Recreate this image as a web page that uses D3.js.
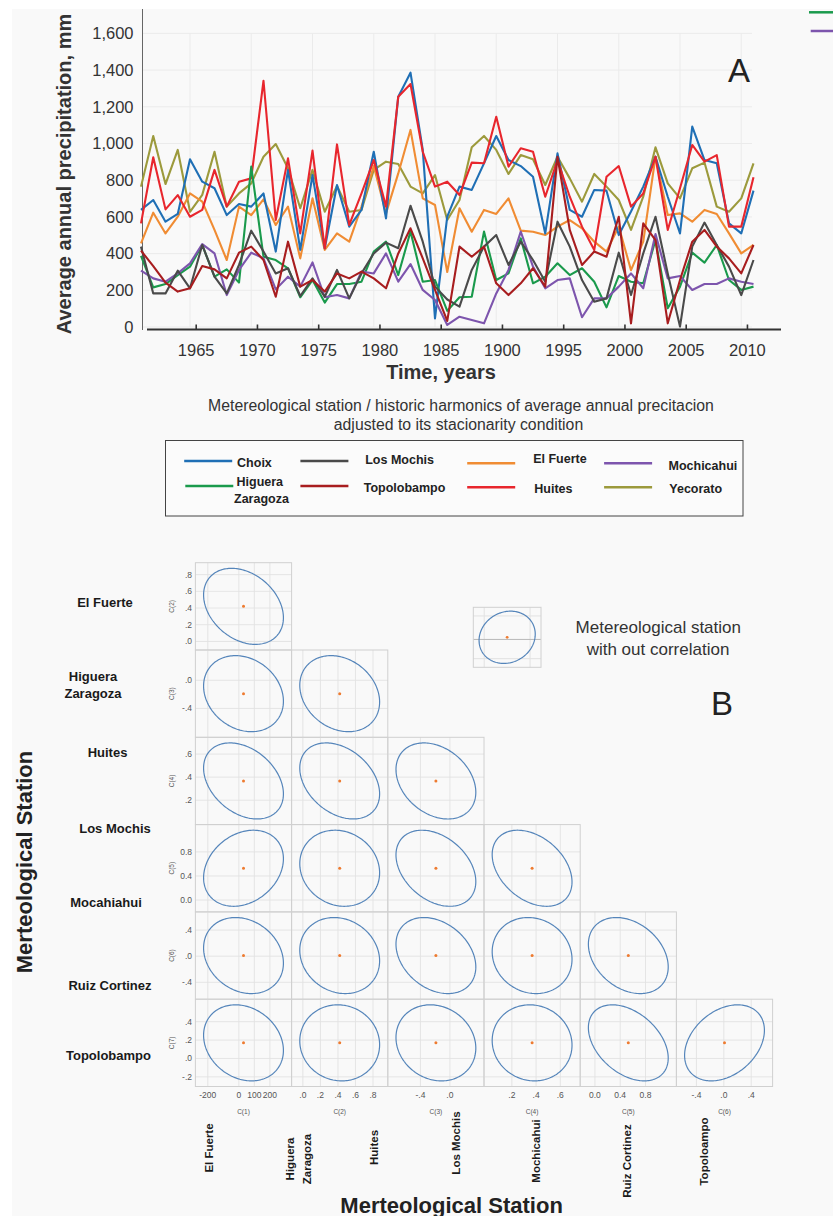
<!DOCTYPE html>
<html><head><meta charset="utf-8">
<script src="https://cdn.jsdelivr.net/npm/d3@7"></script>
<style>body{margin:0;background:#fff}text{font-family:"Liberation Sans",Arial,sans-serif}</style>
</head><body><svg id="c" width="833" height="1216"></svg>
<script>
// ---------------- DATA (panel A) ----------------
const years = [1961,1962,1963,1964,1965,1966,1967,1968,1969,1970,1971,1972,1973,1974,1975,1976,1977,1978,1979,1980,1981,1982,1983,1984,1985,1986,1987,1988,1989,1990,1991,1992,1993,1994,1995,1996,1997,1998,1999,2000,2001,2002,2003,2004,2005,2006,2007,2008,2009,2010,2011];
const choix = [638,692,574,616,914,792,756,610,670,656,728,411,856,420,828,429,774,547,638,955,592,1255,1386,965,47,601,765,747,892,1041,910,877,819,510,946,638,601,747,743,501,629,765,928,710,510,1092,910,892,565,510,743];
const huites = [565,925,641,719,601,638,856,656,792,810,1342,583,919,510,961,429,995,556,728,910,656,1255,1324,955,765,792,719,896,892,1146,874,974,955,710,910,710,547,420,819,877,656,728,928,529,756,992,901,937,547,547,816];
const yecorato = [765,1041,779,965,628,720,955,656,728,783,928,997,865,647,856,628,768,628,638,856,901,888,765,728,828,583,692,979,1041,965,834,937,914,774,928,810,683,834,765,692,529,710,979,783,701,865,896,656,628,701,892];
const elFuerte = [456,623,510,601,728,683,529,365,656,610,696,556,656,374,701,420,510,465,656,877,619,837,1074,701,665,300,647,519,638,616,701,525,519,501,547,583,538,465,411,547,310,465,928,610,619,574,638,616,510,401,447];
const losMochis = [438,183,183,307,211,447,274,183,338,525,411,292,320,169,265,165,311,156,292,401,460,429,661,465,220,150,111,311,438,501,338,465,365,247,574,438,256,138,156,405,174,401,601,292,2,438,569,447,329,174,365];
const topolobampo = [416,332,242,193,211,332,314,265,405,438,365,165,465,220,256,193,292,265,302,265,211,401,538,374,202,33,438,383,438,238,174,238,320,220,928,529,338,411,383,601,20,565,474,20,256,465,529,438,374,292,447];
const higuera = [387,216,234,283,329,447,274,314,242,874,383,365,320,162,256,133,234,234,247,411,465,283,520,247,256,88,162,165,520,256,292,483,238,274,347,283,320,247,107,278,247,238,474,102,220,405,351,447,256,202,220];
const mochicahui = [307,265,247,292,347,452,401,174,311,405,374,205,274,220,352,162,174,156,302,292,401,247,343,202,147,11,56,38,20,183,311,520,329,211,256,265,53,156,156,220,292,211,507,265,278,202,234,234,265,247,234];
const yTicks = [0,200,400,600,800,1000,1200,1400,1600];
const xTickYears = [1965,1970,1975,1980,1985,1990,1995,2000,2005,2010];
const xTickLabels = ["1965","1970","1975","1980","1985","1900","1995","2000","2005","2010"];

// ---------------- DATA (panel B) ----------------
const varNames = ["C(1)","C(2)","C(3)","C(4)","C(5)","C(6)","C(7)"];
const varMeans = [30, 0.42, -0.19, 0.367, 0.528, 0.01, 0.17];
const varSDs = [105, 0.186, 0.221, 0.1347, 0.258, 0.238, 0.169];
const varTicks = [[-200,0,100,200],[0,0.2,0.4,0.6,0.8],[-0.4,0],[0.2,0.4,0.6],[0,0.4,0.8],[-0.4,0,0.4],[-0.2,0,0.2,0.4]];
const varTickLabels = [["-200","0","100","200"],[".0",".2",".4",".6",".8"],["-.4",".0"],[".2",".4",".6"],["0.0","0.4","0.8"],["-.4",".0",".4"],["-.2",".0",".2",".4"]];
// correlation of row variable (C(r+2)) with column variable (C(c+1))
const correlations = [
  [-0.30],
  [-0.20,-0.22],
  [-0.34,-0.34,-0.30],
  [0.25,-0.12,-0.35,-0.36],
  [-0.20,-0.14,-0.30,-0.10,-0.30],
  [-0.20,-0.05,-0.14,-0.06,-0.40,0.33]
];
const rowLabels = ["El Fuerte","Higuera|Zaragoza","Huites","Los Mochis","Mocahiahui","Ruiz  Cortinez","Topolobampo"];
const colLabels = ["El Fuerte","Higuera|Zaragoza","Huites","Los Mochis","Mochicahui","Ruiz  Cortinez","Topoloampo"];
const exampleCorrelation = 0.12;

// ---------------- DRAW ----------------
const svg = d3.select("#c");
svg.append("rect").attr("width",833).attr("height",1216).attr("fill","#fff");
svg.append("rect").attr("x",12).attr("y",9).attr("width",821).attr("height",1207).attr("fill","#f9f9f9");

const x = d3.scaleLinear().domain([1961,2011]).range([141,753.5]);
const y = d3.scaleLinear().domain([0,1600]).range([327,33.4]);
const A = svg.append("g");

// grid
A.append("g").selectAll("line").data(xTickYears).join("line")
  .attr("x1",d=>x(d)).attr("x2",d=>x(d)).attr("y1",y(1600)).attr("y2",y(0))
  .attr("stroke","#ebebeb").attr("stroke-width",1);
A.append("g").selectAll("line").data(yTicks).join("line")
  .attr("x1",142).attr("x2",752).attr("y1",d=>y(d)).attr("y2",d=>y(d))
  .attr("stroke","#ebebeb").attr("stroke-width",1);

// y axis
const ya = A.append("g").attr("transform","translate(142.5,0)")
  .call(d3.axisLeft(y).tickValues(yTicks).tickSize(0).tickPadding(9).tickFormat(d3.format(",")));
ya.select(".domain").remove();
ya.selectAll("text").attr("font-size",16.5).attr("fill","#333").style("font-family","'Liberation Sans',Arial");
A.append("line").attr("x1",142.5).attr("x2",142.5).attr("y1",9).attr("y2",330).attr("stroke","#666").attr("stroke-width",1);

// series
const series = [
  {name:"Yecorato", values:yecorato, color:"#9c9a3c"},
  {name:"El Fuerte", values:elFuerte, color:"#f08c33"},
  {name:"Choix", values:choix, color:"#1f6fb5"},
  {name:"Huites", values:huites, color:"#e8262d"},
  {name:"Higuera Zaragoza", values:higuera, color:"#1a9a4c"},
  {name:"Mochicahui", values:mochicahui, color:"#7d55ad"},
  {name:"Los Mochis", values:losMochis, color:"#4a4a4a"},
  {name:"Topolobampo", values:topolobampo, color:"#a81d1f"}
];
const line = d3.line().x((d,i)=>x(years[i])).y(d=>y(d));
A.append("g").selectAll("path").data(series).join("path")
  .attr("d",d=>line(d.values)).attr("fill","none").attr("stroke",d=>d.color)
  .attr("stroke-width",2.1).attr("stroke-linejoin","round");

// x axis
const xTick = x.copy().range([141+5.7,753.5+5.7]);
const xa = A.append("g").attr("transform","translate(0,329.5)")
  .call(d3.axisBottom(xTick).tickValues(xTickYears).tickSize(-5).tickPadding(15).tickFormat((d,i)=>xTickLabels[i]));
xa.select(".domain").remove();
xa.selectAll(".tick line").attr("stroke","#333").attr("stroke-width",1.6);
xa.selectAll("text").attr("font-size",16.5).attr("fill","#333").style("font-family","'Liberation Sans',Arial");
A.append("line").attr("x1",147).attr("x2",781).attr("y1",329.5).attr("y2",329.5).attr("stroke","#333").attr("stroke-width",2);

A.append("text").attr("transform","translate(63.5,174) rotate(-90)").attr("text-anchor","middle")
  .attr("dominant-baseline","central").attr("font-size",20).attr("font-weight","bold").attr("fill","#333")
  .text("Average annual precipitation, mm");
A.append("text").attr("x",441).attr("y",372).attr("text-anchor","middle").attr("dominant-baseline","central")
  .attr("font-size",20).attr("font-weight","bold").attr("fill","#333").text("Time, years");
A.append("text").attr("x",739).attr("y",82).attr("text-anchor","middle").attr("font-size",33).attr("fill","#222").text("A");

// cropped legend fragments at top-right
A.append("line").attr("x1",809).attr("x2",833).attr("y1",12.3).attr("y2",12.3).attr("stroke","#1a9a4c").attr("stroke-width",2.5);
A.append("line").attr("x1",810.7).attr("x2",833).attr("y1",31).attr("y2",31).attr("stroke","#7d55ad").attr("stroke-width",2.5);

// subtitle
A.append("text").attr("x",461).attr("y",405).attr("text-anchor","middle").attr("dominant-baseline","central")
  .attr("font-size",15.8).attr("fill","#333").text("Metereological station / historic harmonics of average annual precitacion");
A.append("text").attr("x",458.5).attr("y",424).attr("text-anchor","middle").attr("dominant-baseline","central")
  .attr("font-size",15.8).attr("fill","#333").text("adjusted to its stacionarity condition");

// legend
A.append("rect").attr("x",165.5).attr("y",440.5).attr("width",577.5).attr("height",75.5)
  .attr("fill","#fff").attr("fill-opacity",0.3).attr("stroke","#444").attr("stroke-width",1);
const legendItems = [
  {name:"Choix", color:"#1f6fb5", lx:184.2, ly:461, tx:237.1, ty:[462.7]},
  {name:"Higuera|Zaragoza", color:"#1a9a4c", lx:185.3, ly:486, tx:236.5, ty:[482.3,499]},
  {name:"Los Mochis", color:"#4a4a4a", lx:300.4, ly:461, tx:365.2, ty:[460.3]},
  {name:"Topolobampo", color:"#a81d1f", lx:300.4, ly:486, tx:363.7, ty:[488.3]},
  {name:"El Fuerte", color:"#f08c33", lx:467.2, ly:463.3, tx:533.2, ty:[459]},
  {name:"Huites", color:"#e8262d", lx:467.2, ly:487.3, tx:534.3, ty:[489.3]},
  {name:"Mochicahui", color:"#7d55ad", lx:604.1, ly:463.3, tx:668.5, ty:[465.7]},
  {name:"Yecorato", color:"#9c9a3c", lx:604.1, ly:487.3, tx:669.3, ty:[489.3]}
];
const lg = A.append("g").selectAll("g").data(legendItems).join("g");
lg.append("line").attr("x1",d=>d.lx).attr("x2",d=>d.lx+48).attr("y1",d=>d.ly).attr("y2",d=>d.ly)
  .attr("stroke",d=>d.color).attr("stroke-width",2.5);
lg.each(function(d){
  const parts = d.name.split("|");
  parts.forEach((p,k)=>{
    d3.select(this).append("text").attr("x",d.tx - (k? 2.5:0)).attr("y",d.ty[k]).attr("dominant-baseline","central")
      .attr("font-size",12.5).attr("font-weight","bold").attr("fill","#222").text(p);
  });
});

// ---------------- Panel B ----------------
const B = svg.append("g");
const left0 = 195.4, cellW = 96.2, top0 = 562.7, cellH = 87.3;
const padX = 2.95, padY = 2.81, k95 = 2.448;
const xS = c => d3.scaleLinear().domain([varMeans[c]-varSDs[c]*padX, varMeans[c]+varSDs[c]*padX]).range([left0+c*cellW, left0+(c+1)*cellW]);
const yS = (r) => d3.scaleLinear().domain([varMeans[r+1]-varSDs[r+1]*padY, varMeans[r+1]+varSDs[r+1]*padY]).range([top0+(r+1)*cellH, top0+r*cellH]);
const ts = d3.range(0, 2*Math.PI, Math.PI/90);
function ellipsePts(rho, mx, my, sx, sy, fx, fy){
  return ts.map(t=>{
    const u = Math.cos(t)*Math.sqrt(1+rho), v = Math.sin(t)*Math.sqrt(1-rho);
    const zx = (u-v)/Math.SQRT2, zy = (u+v)/Math.SQRT2;
    return [fx(mx + k95*sx*zx), fy(my + k95*sy*zy)];
  });
}
const closed = d3.line().curve(d3.curveLinearClosed);

const cells = [];
correlations.forEach((row,r)=>row.forEach((rho,c)=>cells.push({r,c,rho})));
const cg = B.append("g").selectAll("g").data(cells).join("g");
cg.each(function(d){
  const g = d3.select(this), fx = xS(d.c), fy = yS(d.r);
  const [x0,x1] = fx.range(), [y1,y0] = fy.range();
  g.append("g").selectAll("line").data(varTicks[d.c]).join("line")
    .attr("x1",v=>fx(v)).attr("x2",v=>fx(v)).attr("y1",y0).attr("y2",y1).attr("stroke","#e2e2e2").attr("stroke-width",0.9);
  g.append("g").selectAll("line").data(varTicks[d.r+1]).join("line")
    .attr("y1",v=>fy(v)).attr("y2",v=>fy(v)).attr("x1",x0).attr("x2",x1).attr("stroke","#e2e2e2").attr("stroke-width",0.9);
  g.append("rect").attr("x",x0).attr("y",y0).attr("width",x1-x0).attr("height",y1-y0)
    .attr("fill","none").attr("stroke","#d0d0d0").attr("stroke-width",1);
  g.append("path").attr("d",closed(ellipsePts(d.rho, varMeans[d.c], varMeans[d.r+1], varSDs[d.c], varSDs[d.r+1], fx, fy)))
    .attr("fill","none").attr("stroke","#5585ba").attr("stroke-width",1.2);
  g.append("circle").attr("cx",fx(varMeans[d.c])).attr("cy",fy(varMeans[d.r+1])).attr("r",1.5).attr("fill","#ee7b30");
});

// left tick labels + titles
for(let r=0;r<6;r++){
  const fy = yS(r), vi = r+1;
  B.append("g").selectAll("text").data(varTicks[vi]).join("text")
    .attr("x",192).attr("y",v=>fy(v)).attr("text-anchor","end").attr("dominant-baseline","central")
    .attr("font-size",8.5).attr("fill","#555").text((v,i)=>varTickLabels[vi][i]);
  B.append("text").attr("transform",`translate(171,${top0+r*cellH+cellH/2}) rotate(-90)`).attr("text-anchor","middle")
    .attr("dominant-baseline","central").attr("font-size",6.5).attr("fill","#555").text(varNames[vi]);
}
// bottom tick labels + titles
for(let c=0;c<6;c++){
  const fx = xS(c);
  B.append("g").selectAll("text").data(varTicks[c]).join("text")
    .attr("x",v=>fx(v)).attr("y",1095).attr("text-anchor","middle").attr("dominant-baseline","central")
    .attr("font-size",8.5).attr("fill","#555").text((v,i)=>varTickLabels[c][i]);
  B.append("text").attr("x",left0+c*cellW+cellW/2).attr("y",1111).attr("text-anchor","middle").attr("dominant-baseline","central")
    .attr("font-size",6.5).attr("fill","#555").text(varNames[c]);
}

// row labels
const rowLabelPos = [[105,602.3],[93,684.5],[107.5,752.7],[115,828.3],[106,902.7],[110,985.7],[108.5,1055]];
rowLabels.forEach((lab,i)=>{
  const parts = lab.split("|");
  parts.forEach((p,k)=>{
    B.append("text").attr("x",rowLabelPos[i][0]).attr("y",rowLabelPos[i][1] + (parts.length>1 ? (k-0.5)*17 : 0))
      .attr("text-anchor","middle").attr("dominant-baseline","central")
      .attr("font-size",13).attr("font-weight","bold").attr("fill","#1a1a1a").text(p);
  });
});
// column labels (rotated)
const colLabelPos = [[209,1148],[298.3,1159],[373.9,1147.5],[456,1143],[535.6,1151],[626.8,1161],[703.5,1151.5]];
colLabels.forEach((lab,i)=>{
  const parts = lab.split("|");
  parts.forEach((p,k)=>{
    B.append("text").attr("transform",`translate(${colLabelPos[i][0] + (parts.length>1 ? (k-0.5)*16.7 : 0)},${colLabelPos[i][1]}) rotate(-90)`)
      .attr("text-anchor","middle").attr("dominant-baseline","central")
      .attr("font-size",11.5).attr("font-weight","bold").attr("fill","#1a1a1a").text(p);
  });
});

B.append("text").attr("transform","translate(24,862) rotate(-90)").attr("text-anchor","middle").attr("dominant-baseline","central")
  .attr("font-size",22).attr("font-weight","bold").attr("fill","#222").text("Merteological Station");
B.append("text").attr("x",451.6).attr("y",1205).attr("text-anchor","middle").attr("dominant-baseline","central")
  .attr("font-size",22).attr("font-weight","bold").attr("fill","#222").text("Merteological Station");

// example without correlation
const ex = B.append("g");
const exX = d3.scaleLinear().domain([-padX,padX]).range([473.3,541]);
const exY = d3.scaleLinear().domain([-padY,padY]).range([667.3,607.3]);
[-2,2].forEach(v=>{
  ex.append("line").attr("x1",exX(v)).attr("x2",exX(v)).attr("y1",607.3).attr("y2",667.3).attr("stroke","#e2e2e2");
  ex.append("line").attr("y1",exY(v)).attr("y2",exY(v)).attr("x1",473.3).attr("x2",541).attr("stroke","#e2e2e2");
});
ex.append("line").attr("y1",exY(-0.2)).attr("y2",exY(-0.2)).attr("x1",473.3).attr("x2",541).attr("stroke","#b8b8b8");
ex.append("rect").attr("x",473.3).attr("y",607.3).attr("width",67.7).attr("height",60).attr("fill","none").attr("stroke","#d0d0d0");
ex.append("path").attr("d",closed(ellipsePts(exampleCorrelation,0,0,1,1,exX,exY))).attr("fill","none").attr("stroke","#5585ba").attr("stroke-width",1.2);
ex.append("circle").attr("cx",exX(0)).attr("cy",exY(0)).attr("r",1.4).attr("fill","#ee7b30");
B.append("text").attr("x",658.3).attr("y",627.3).attr("text-anchor","middle").attr("dominant-baseline","central")
  .attr("font-size",17).attr("fill","#333").text("Metereological station");
B.append("text").attr("x",658).attr("y",649).attr("text-anchor","middle").attr("dominant-baseline","central")
  .attr("font-size",17).attr("fill","#333").text("with out correlation");
B.append("text").attr("x",722).attr("y",715).attr("text-anchor","middle").attr("font-size",33).attr("fill","#222").text("B");
</script></body></html>
